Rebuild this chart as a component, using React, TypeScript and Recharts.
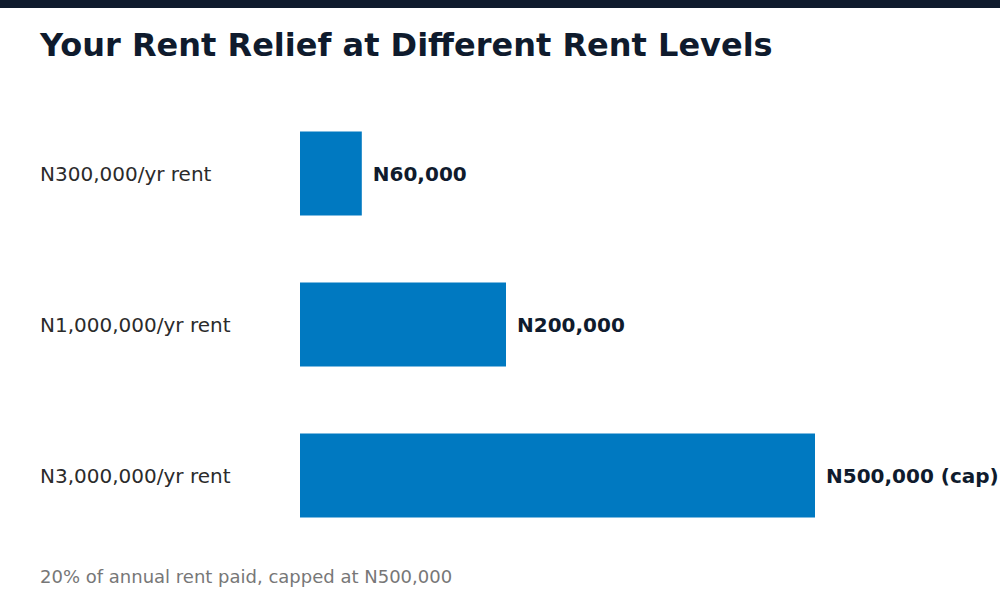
import { Bar, BarChart, XAxis, YAxis, LabelList } from "recharts";

const categories = ["N300,000/yr rent", "N1,000,000/yr rent", "N3,000,000/yr rent"];
const relief = [60000, 200000, 500000];
const reliefLabels = ["N60,000", "N200,000", "N500,000 (cap)"];

const data = categories.map((name, i) => ({
  name,
  relief: relief[i],
  label: reliefLabels[i],
}));

const FONT = "'DejaVu Sans', sans-serif";

const CategoryTick = ({ y, payload }: any) => (
  <text
    x={40}
    y={y}
    dy="0.38em"
    textAnchor="start"
    fill="#2b2b2b"
    fontSize={20}
    fontFamily={FONT}
  >
    {payload.value}
  </text>
);

export default function App() {
  return (
    <div
      style={{
        position: "absolute",
        left: 0,
        top: 0,
        width: 1000,
        height: 600,
        background: "#ffffff",
        overflow: "hidden",
        fontFamily: FONT,
      }}
    >
      {/* top strip */}
      <div style={{ position: "absolute", left: 0, top: 0, width: 1000, height: 8, background: "#0f1b2d" }} />

      <div
        style={{
          position: "absolute",
          left: 40,
          top: 29,
          fontSize: 32,
          lineHeight: "32px",
          fontWeight: 700,
          color: "#0f1b2d",
          whiteSpace: "nowrap",
        }}
      >
        Your Rent Relief at Different Rent Levels
      </div>

      <div style={{ position: "absolute", left: 0, top: 0 }}>
        <BarChart
          width={1000}
          height={600}
          data={data}
          layout="vertical"
          margin={{ top: 97.5, right: 185, bottom: 49.5, left: 40 }}
          barCategoryGap={67}
          style={{ overflow: "visible" }}
        >
          <XAxis type="number" domain={[0, 500000]} hide />
          <YAxis
            type="category"
            dataKey="name"
            width={260}
            axisLine={false}
            tickLine={false}
            tick={<CategoryTick />}
          />
          <Bar dataKey="relief" fill="#0079c1" barSize={84} isAnimationActive={false}>
            <LabelList
              dataKey="label"
              position="right"
              offset={11}
              fill="#0f1b2d"
              fontSize={20}
              fontWeight={700}
              fontFamily={FONT}
            />
          </Bar>
        </BarChart>
      </div>

      <div
        style={{
          position: "absolute",
          left: 40,
          top: 568,
          fontSize: 18,
          lineHeight: "18px",
          color: "#777777",
          whiteSpace: "nowrap",
        }}
      >
        20% of annual rent paid, capped at N500,000
      </div>
    </div>
  );
}
